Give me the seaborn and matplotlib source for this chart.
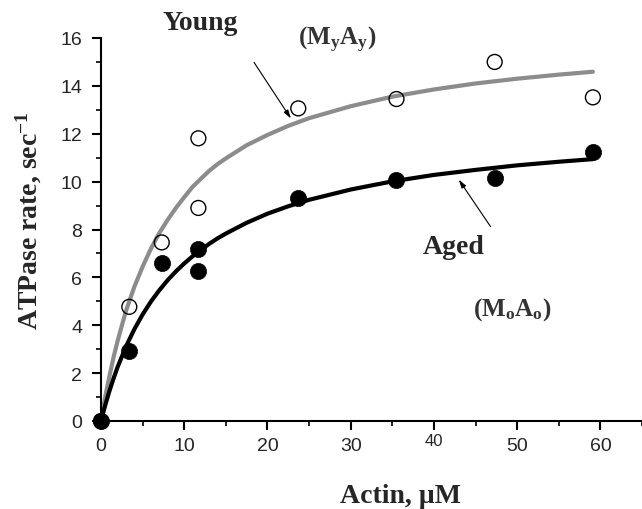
import pandas as pd
import matplotlib
matplotlib.use("Agg")
import matplotlib.pyplot as plt
import seaborn as sns

# measured points (actin uM, ATPase rate 1/s)
young_x = [0, 3.4, 7.3, 11.7, 11.7, 23.7, 35.5, 47.3, 59.1]
young_y = [0, 4.77, 7.46, 11.81, 8.9, 13.06, 13.45, 15.0, 13.52]
aged_x = [0, 3.4, 7.3, 11.7, 11.7, 23.7, 35.5, 47.3, 59.1]
aged_y = [0, 2.94, 6.6, 7.2, 6.28, 9.31, 10.07, 10.14, 11.22]

# fitted curves
fit_x = [0, 0.25, 0.5, 1, 1.5, 2, 3, 4, 5, 6, 7, 8, 9, 10, 11, 12, 13, 14, 15,
         17.5, 20, 22.5, 25, 30, 35, 40, 45, 50, 55, 59.1]
young_fit = [0, 0.52, 1.0, 1.85, 2.65, 3.35, 4.6, 5.6, 6.45, 7.2, 7.85, 8.4, 8.9,
             9.35, 9.78, 10.12, 10.45, 10.73, 10.97, 11.52, 11.95, 12.33,
             12.65, 13.15, 13.55, 13.85, 14.1, 14.3, 14.47, 14.59]
aged_fit = [0, 0.33, 0.65, 1.24, 1.77, 2.26, 3.11, 3.83, 4.45, 4.99, 5.46, 5.88,
            6.25, 6.58, 6.88, 7.15, 7.4, 7.63, 7.83, 8.28, 8.66, 8.97,
            9.24, 9.67, 10.01, 10.28, 10.49, 10.68, 10.83, 10.94]

x_ticks = [0, 10, 20, 30, 40, 50, 60]
y_ticks = [0, 2, 4, 6, 8, 10, 12, 14, 16]

pts = pd.DataFrame({"x": young_x + aged_x, "y": young_y + aged_y,
                    "grp": ["Young"] * len(young_x) + ["Aged"] * len(aged_x)})
fits = pd.DataFrame({"x": fit_x * 2, "y": young_fit + aged_fit,
                     "grp": ["Young"] * len(fit_x) + ["Aged"] * len(fit_x)})

sns.set_style("ticks")
plt.rcParams["font.family"] = ["Liberation Sans", "DejaVu Sans"]
plt.rcParams["mathtext.fontset"] = "custom"
plt.rcParams["mathtext.rm"] = "Liberation Serif:bold"
plt.rcParams["mathtext.bf"] = "Liberation Serif:bold"
plt.rcParams["mathtext.it"] = "Liberation Serif:bold"
plt.rcParams["mathtext.default"] = "bf"

fig = plt.figure(figsize=(6.42, 5.10), dpi=100)
ax = fig.add_axes([101 / 642, 88 / 510, 541 / 642, 383 / 510])

# fitted curves first, points on top
sns.lineplot(data=fits[fits.grp == "Young"], x="x", y="y", color="#8c8c8c", lw=3,
             sort=False, estimator=None, ax=ax)
sns.lineplot(data=fits[fits.grp == "Aged"], x="x", y="y", color="black", lw=3,
             sort=False, estimator=None, ax=ax)
sns.scatterplot(data=pts[pts.grp == "Young"], x="x", y="y", s=115, marker="o",
                facecolor="none", edgecolor="black", linewidth=1, ax=ax, clip_on=False, zorder=3)
sns.scatterplot(data=pts[pts.grp == "Aged"], x="x", y="y", s=135, marker="o",
                color="black", edgecolor="black", linewidth=0.5, ax=ax, clip_on=False, zorder=4)

ax.set_xlim(0, 65)
ax.set_ylim(0, 16)
ax.set_xticks(x_ticks)
ax.set_yticks(y_ticks)
ax.set_xticks([5, 15, 25, 35, 45, 55, 65], minor=True)
ax.set_yticks([1, 3, 5, 7, 9, 11, 13, 15], minor=True)
ax.tick_params(axis="both", which="major", labelsize=14, width=1.5, length=6.5, color="black")
ax.tick_params(axis="both", which="minor", width=1.2, length=3.5, color="black")
ax.tick_params(axis="y", which="major", pad=7)
ax.tick_params(axis="x", which="major", pad=5)
for lbl in ax.get_xticklabels():
    if lbl.get_text() == "40":
        lbl.set_fontsize(12)
        lbl.set_y(0.01)

sns.despine(ax=ax)
for s in ["left", "bottom"]:
    ax.spines[s].set_linewidth(1.5)
    ax.spines[s].set_color("black")

ax.set_xlabel("Actin, \u00b5M", family="Liberation Serif", fontweight="bold", fontsize=20)
ax.set_ylabel("ATPase rate, sec$^{-1}$", family="Liberation Serif", fontweight="bold", fontsize=20)
ax.xaxis.set_label_coords((400 - 101) / 541, -(497 - 422) / 383)
ax.yaxis.set_label_coords(-(101 - 29) / 541, (422 - 221) / 383)
ax.yaxis.label.set_va("center")
ax.xaxis.label.set_va("center")

serif = dict(family="Liberation Serif", fontweight="bold", ha="center", va="center")
ax.text(11.9, 16.63, "Young", fontsize=20, clip_on=False, **serif)
ax.text(28.4, 15.95, "(M$_y$A$_y$)", fontsize=18, color="#333333", clip_on=False, **serif)
ax.text(42.4, 7.31, "Aged", fontsize=20, **serif)
ax.text(49.4, 4.7, "(M$_o$A$_o$)", fontsize=18, color="#333333", **serif)

arrow = dict(arrowstyle="-|>,head_length=0.5,head_width=0.15", color="black", lw=0.8)
ax.annotate("", xy=(23.0, 12.54), xytext=(18.2, 15.08), arrowprops=arrow)
ax.annotate("", xy=(42.8, 10.18), xytext=(47.0, 8.02), arrowprops=arrow)

fig.savefig("out.png", dpi=100)
